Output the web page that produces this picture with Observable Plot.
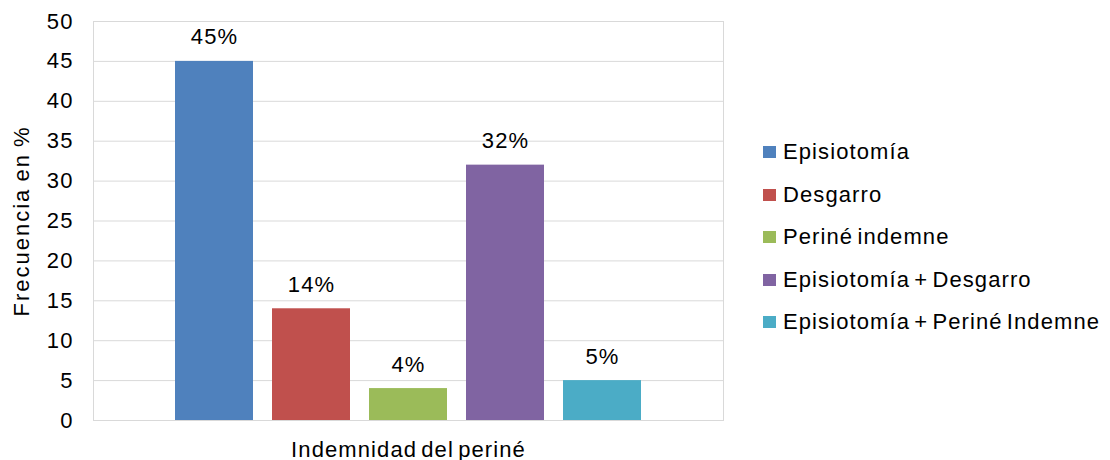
<!DOCTYPE html>
<html>
<head>
<meta charset="utf-8">
<script src="https://cdn.jsdelivr.net/npm/d3@7"></script>
<script src="https://cdn.jsdelivr.net/npm/@observablehq/plot@0.6"></script>
<style>
  html, body { margin: 0; padding: 0; background: #fff; }
  #wrap { position: relative; width: 1110px; height: 460px; font-family: "Liberation Sans", Arial, sans-serif; }
  #wrap svg text { letter-spacing: 1.1px; word-spacing: -3px; }
  #wrap svg g[aria-label="y-axis label"] text { letter-spacing: 2px; word-spacing: -2px; }
  #legend { position: absolute; left: 763px; top: 131px; font-size: 22px; color: #000; letter-spacing: 1.1px; word-spacing: -3px; }
  .item { display: flex; align-items: center; height: 42.5px; white-space: nowrap; }
  .sw { width: 13px; height: 12px; margin-right: 7px; flex: none; }
</style>
</head>
<body>
<div id="wrap"></div>
<script>
const categories = ["Episiotomía", "Desgarro", "Periné indemne", "Episiotomía + Desgarro", "Episiotomía + Periné Indemne"];
const values = [45, 14, 4, 32, 5];
const labels = ["45%", "14%", "4%", "32%", "5%"];
const colors = ["#4F81BD", "#C0504D", "#9BBB59", "#8064A2", "#4BACC6"];
const yTicks = [0, 5, 10, 15, 20, 25, 30, 35, 40, 45, 50];

const data = categories.map((c, i) => ({cat: c, value: values[i], label: labels[i]}));

const chart = Plot.plot({
  width: 1110,
  height: 460,
  marginLeft: 93,
  marginRight: 387,
  marginTop: 21,
  marginBottom: 40,
  style: {fontFamily: "'Liberation Sans', Arial, sans-serif", fontSize: "22px", color: "#000", background: "#fff"},
  x: {domain: categories, range: [175, 640.6], paddingInner: 0.2, paddingOuter: 0},
  y: {domain: [0, 50]},
  color: {domain: categories, range: colors},
  marks: [
    Plot.gridY(yTicks, {stroke: "#d9d9d9", strokeOpacity: 1, strokeWidth: 1}),
    Plot.frame({stroke: "#d9d9d9", strokeWidth: 1}),
    Plot.barY(data, {x: "cat", y: "value", fill: "cat"}),
    Plot.text(data, {x: "cat", y: "value", text: "label", dy: -24, fontSize: 22, fill: "#000"}),
    Plot.axisY(yTicks, {tickSize: 0, tickPadding: 20, fontSize: 22, label: "Frecuencia en %", labelAnchor: "center", labelArrow: "none", labelOffset: 80}),
    Plot.axisX({ticks: [], tickSize: 0, tickFormat: () => "", label: "Indemnidad del periné", labelAnchor: "center", labelArrow: "none", labelOffset: 36, fontSize: 22})
  ]
});

const wrap = document.getElementById("wrap");
wrap.appendChild(chart);
const legend = document.createElement("div");
legend.id = "legend";
categories.forEach((c, i) => {
  const it = document.createElement("div");
  it.className = "item";
  const sw = document.createElement("span");
  sw.className = "sw";
  sw.style.background = colors[i];
  const t = document.createElement("span");
  t.textContent = c;
  it.appendChild(sw);
  it.appendChild(t);
  legend.appendChild(it);
});
wrap.appendChild(legend);
</script>
</body>
</html>
